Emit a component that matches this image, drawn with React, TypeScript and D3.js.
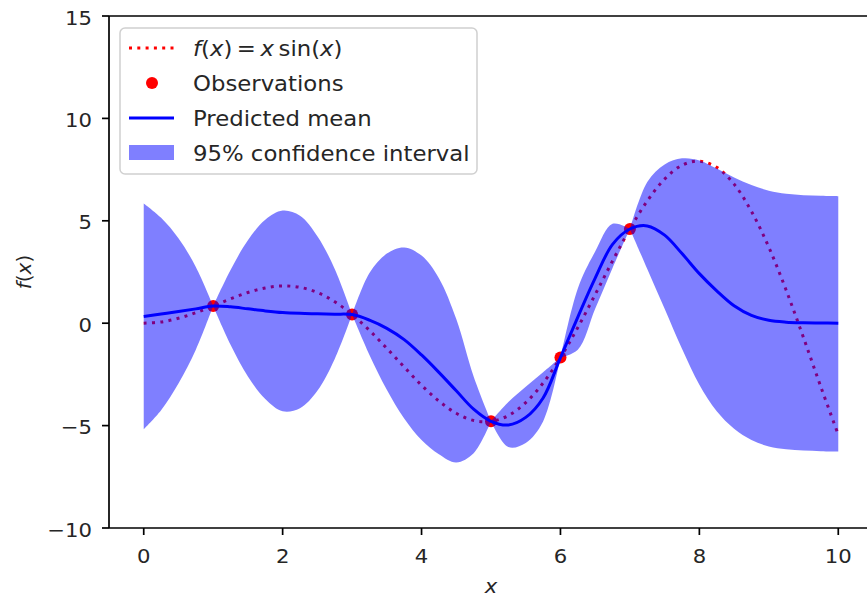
import React from 'react';
import * as d3 from 'd3';

// sample grid (x) and the curves
const xGrid = [0, 0.25, 0.5, 0.75, 1, 1.25, 1.5, 1.75, 2, 2.25, 2.5, 2.75, 3, 3.25, 3.5, 3.75, 4, 4.25, 4.5, 4.75, 5,
  5.25, 5.5, 5.75, 6, 6.25, 6.5, 6.75, 7, 7.25, 7.5, 7.75, 8, 8.25, 8.5, 8.75, 9, 9.25, 9.5, 9.75, 10];
const trueF = [0, 0.06, 0.24, 0.51, 0.84, 1.19, 1.5, 1.72, 1.82, 1.75, 1.5, 1.05, 0.42, -0.35, -1.23, -2.14, -3.03, -3.8,
  -4.4, -4.75, -4.79, -4.51, -3.88, -2.92, -1.68, -0.21, 1.4, 3.04, 4.6, 5.97, 7.04, 7.71, 7.91, 7.61, 6.79, 5.46, 3.71,
  1.61, -0.71, -3.12, -5.44];
const predMean = [0.33, 0.45, 0.57, 0.7, 0.84, 0.8, 0.7, 0.6, 0.52, 0.48, 0.46, 0.44, 0.42, 0.15, -0.25, -0.8, -1.55, -2.4,
  -3.3, -4.2, -4.79, -4.97, -4.6, -3.65, -1.68, 0.3, 2.2, 3.85, 4.6, 4.75, 4.3, 3.4, 2.42, 1.58, 0.85, 0.38, 0.14, 0.05,
  0.02, 0.01, 0];
const ciUpper = [5.85, 5.15, 4.15, 2.75, 0.84, 2.6, 4.05, 5.05, 5.5, 5.25, 4.25, 2.65, 0.42, 2.45, 3.4, 3.7, 3.3, 2.2, 0.2,
  -2.6, -4.79, -3.85, -3.1, -2.4, -1.68, 1.7, 3.5, 4.85, 4.6, 6.9, 7.75, 8.05, 7.95, 7.55, 7.12, 6.75, 6.47, 6.32, 6.25,
  6.22, 6.2];
const ciLower = [-5.18, -4.25, -2.95, -1.3, 0.84, -1.05, -2.6, -3.7, -4.3, -4.15, -3.3, -1.75, 0.42, -1.55, -3.25, -4.65,
  -5.7, -6.4, -6.8, -6.35, -4.79, -6.05, -5.85, -4.8, -1.68, -1.3, 0.7, 2.7, 4.6, 2.65, 0.7, -1.25, -3.0, -4.3, -5.15,
  -5.7, -6.02, -6.16, -6.22, -6.25, -6.27];
const obsX = [1, 3, 5, 6, 7];
const obsY = [0.84, 0.42, -4.79, -1.68, 4.6];
const xTicks = [0, 2, 4, 6, 8, 10];
const yTicks = [-10, -5, 0, 5, 10, 15];

const W = 867, H = 598;
const FONT = '"DejaVu Sans", sans-serif';
const INK = '#262626';

export default function App() {
  const x = d3.scaleLinear().domain([-0.5, 10.5]).range([109, 873]);
  const y = d3.scaleLinear().domain([-10, 15]).range([528, 16]);
  const pts = xGrid.map((v, i) => ({ x: v, f: trueF[i], m: predMean[i], lo: ciLower[i], hi: ciUpper[i] }));
  const curve = d3.curveCatmullRom.alpha(0.5);

  const fLine = d3.line<any>().x(d => x(d.x)).y(d => y(d.f)).curve(curve);
  const mLine = d3.line<any>().x(d => x(d.x)).y(d => y(d.m)).curve(curve);
  const band = d3.area<any>().x(d => x(d.x)).y0(d => y(d.lo)).y1(d => y(d.hi)).curve(curve);

  // the band pinches at each observation, so draw it piece by piece between them
  const cuts = [0, ...obsX.map(o => xGrid.indexOf(o)), xGrid.length - 1];
  const bandPieces = d3.pairs(cuts).map(([a, b]) => pts.slice(a, b + 1));

  const [x0, x1] = x.range();
  const [yb, yt] = y.range();
  const tickFs = 20, sx = 1.06;
  const legFs = 21.5, lsx = 1.06;
  const legRows = [48, 83, 118, 153];
  const legTextX = 193;
  const thin = '\u2009';

  return (
    <svg width={W} height={H} style={{ position: 'absolute', left: 0, top: 0, background: '#fff' }}
      fontFamily={FONT}>
      <rect width={W} height={H} fill="#fff" />
      {/* data: lines first, band drawn over them with alpha */}
      <path d={fLine(pts) || ''} fill="none" stroke="red" strokeWidth={3} strokeDasharray="3 5.3" />
      {obsX.map((v, i) => (
        <circle key={i} cx={x(v)} cy={y(obsY[i])} r={6} fill="red" />
      ))}
      <path d={mLine(pts) || ''} fill="none" stroke="blue" strokeWidth={3} />
      <g fill="blue" fillOpacity={0.5} stroke="none">
        {bandPieces.map((seg, i) => <path key={i} d={band(seg) || ''} />)}
      </g>

      {/* spines */}
      <g stroke="#000" strokeWidth={1.7} fill="none">
        <line x1={x0} x2={x0} y1={yt} y2={yb} />
        <line x1={x0} x2={x1} y1={yb} y2={yb} />
        <line x1={x0} x2={x1} y1={yt} y2={yt} />
        <line x1={x1} x2={x1} y1={yt} y2={yb} />
      </g>

      {/* x ticks */}
      {xTicks.map(t => (
        <g key={t}>
          <line x1={x(t)} x2={x(t)} y1={yb} y2={yb + 7} stroke="#000" strokeWidth={1.7} />
          <text transform={`translate(${x(t)},${563}) scale(${sx},1)`} textAnchor="middle" fontSize={tickFs}
            fill={INK}>{String(t)}</text>
        </g>
      ))}
      {/* y ticks */}
      {yTicks.map(t => (
        <g key={t}>
          <line x1={x0 - 7} x2={x0} y1={y(t)} y2={y(t)} stroke="#000" strokeWidth={1.7} />
          <text transform={`translate(${92},${y(t) + 8.5}) scale(${sx},1)`} textAnchor="end" fontSize={tickFs}
            fill={INK}>{t < 0 ? '\u2212' + Math.abs(t) : String(t)}</text>
        </g>
      ))}

      {/* axis labels */}
      <text transform={`translate(${(x0 + x1) / 2},${593}) scale(${sx},1)`} textAnchor="middle" fontSize={tickFs}
        fontStyle="italic" fill={INK}>x</text>
      <text transform={`translate(${31},${(yt + yb) / 2}) rotate(-90)`} textAnchor="middle" fontSize={tickFs}
        fill={INK}>
        <tspan fontStyle="italic">f</tspan>(<tspan fontStyle="italic">x</tspan>)
      </text>

      {/* legend */}
      <rect x={120} y={28} width={357} height={146} rx={5} fill="#fff" fillOpacity={0.8} stroke="#d0d0d0"
        strokeWidth={1.5} />
      <line x1={129} x2={174} y1={legRows[0]} y2={legRows[0]} stroke="red" strokeWidth={3} strokeDasharray="3 5.3" />
      <circle cx={152} cy={legRows[1]} r={6} fill="red" />
      <line x1={129} x2={174} y1={legRows[2]} y2={legRows[2]} stroke="blue" strokeWidth={3} />
      <rect x={129} y={legRows[3] - 8} width={45} height={15} fill="blue" fillOpacity={0.5} />
      <g fontSize={legFs} fill={INK}>
        <text transform={`translate(${legTextX},${legRows[0] + 7.5}) scale(${lsx},1)`}>
          <tspan fontStyle="italic">f</tspan>(<tspan fontStyle="italic">x</tspan>){thin}={thin}
          <tspan fontStyle="italic">x</tspan>{thin}sin(<tspan fontStyle="italic">x</tspan>)
        </text>
        <text transform={`translate(${legTextX},${legRows[1] + 7.5}) scale(${lsx},1)`}>Observations</text>
        <text transform={`translate(${legTextX},${legRows[2] + 7.5}) scale(${lsx},1)`}>Predicted mean</text>
        <text transform={`translate(${legTextX},${legRows[3] + 7.5}) scale(${lsx},1)`}>95% confidence interval</text>
      </g>
    </svg>
  );
}
